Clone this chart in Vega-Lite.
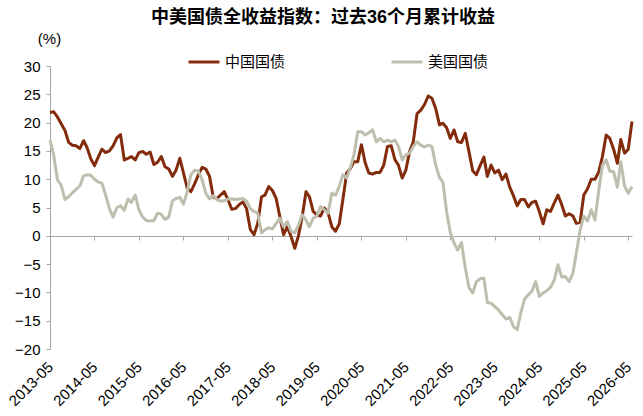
{
  "$schema": "https://vega.github.io/schema/vega-lite/v6.json",
  "width": 582,
  "height": 283,
  "autosize": {"type": "none"},
  "padding": {"left": 50, "top": 66, "right": 11, "bottom": 67},
  "config": {
    "font": "Liberation Sans, Noto Sans CJK SC",
    "view": {"stroke": null}
  },
  "title": {
    "text": "中美国债全收益指数：过去36个月累计收益",
    "font": "Liberation Sans, Noto Sans CJK SC",
    "fontSize": 18,
    "fontWeight": "bold",
    "color": "#000000",
    "anchor": "middle",
    "dx": -18,
    "offset": 4
  },
  "data": {
    "values": [
      {"d": "2013-05", "cn": 21.8, "us": 16.9},
      {"d": "2013-06", "cn": 21.9, "us": 14.2},
      {"d": "2013-07", "cn": 21.0, "us": 9.9},
      {"d": "2013-08", "cn": 19.8, "us": 8.9},
      {"d": "2013-09", "cn": 18.6, "us": 6.4},
      {"d": "2013-10", "cn": 16.5, "us": 6.9},
      {"d": "2013-11", "cn": 16.0, "us": 7.6},
      {"d": "2013-12", "cn": 15.9, "us": 8.2},
      {"d": "2014-01", "cn": 15.4, "us": 8.8},
      {"d": "2014-02", "cn": 16.8, "us": 10.6},
      {"d": "2014-03", "cn": 15.6, "us": 10.8},
      {"d": "2014-04", "cn": 13.6, "us": 10.7},
      {"d": "2014-05", "cn": 12.4, "us": 10.0},
      {"d": "2014-06", "cn": 13.9, "us": 9.5},
      {"d": "2014-07", "cn": 15.3, "us": 9.3},
      {"d": "2014-08", "cn": 14.7, "us": 7.2},
      {"d": "2014-09", "cn": 15.0, "us": 4.8},
      {"d": "2014-10", "cn": 15.9, "us": 3.3},
      {"d": "2014-11", "cn": 17.3, "us": 5.0},
      {"d": "2014-12", "cn": 17.9, "us": 5.3},
      {"d": "2015-01", "cn": 13.4, "us": 4.5},
      {"d": "2015-02", "cn": 13.7, "us": 6.5},
      {"d": "2015-03", "cn": 14.0, "us": 5.9},
      {"d": "2015-04", "cn": 13.4, "us": 7.2},
      {"d": "2015-05", "cn": 14.7, "us": 4.6},
      {"d": "2015-06", "cn": 14.9, "us": 3.3},
      {"d": "2015-07", "cn": 14.4, "us": 2.7},
      {"d": "2015-08", "cn": 14.8, "us": 2.6},
      {"d": "2015-09", "cn": 12.6, "us": 2.7},
      {"d": "2015-10", "cn": 13.0, "us": 4.0},
      {"d": "2015-11", "cn": 14.0, "us": 3.8},
      {"d": "2015-12", "cn": 12.2, "us": 2.9},
      {"d": "2016-01", "cn": 11.8, "us": 3.3},
      {"d": "2016-02", "cn": 10.5, "us": 6.2},
      {"d": "2016-03", "cn": 11.6, "us": 6.6},
      {"d": "2016-04", "cn": 13.7, "us": 6.8},
      {"d": "2016-05", "cn": 11.1, "us": 5.6},
      {"d": "2016-06", "cn": 8.4, "us": 7.8},
      {"d": "2016-07", "cn": 7.8, "us": 10.8},
      {"d": "2016-08", "cn": 9.2, "us": 11.6},
      {"d": "2016-09", "cn": 10.8, "us": 11.4},
      {"d": "2016-10", "cn": 12.1, "us": 9.9},
      {"d": "2016-11", "cn": 11.8, "us": 7.5},
      {"d": "2016-12", "cn": 10.5, "us": 6.5},
      {"d": "2017-01", "cn": 6.8, "us": 7.1},
      {"d": "2017-02", "cn": 6.6, "us": 6.4},
      {"d": "2017-03", "cn": 7.2, "us": 6.1},
      {"d": "2017-04", "cn": 7.8, "us": 6.2},
      {"d": "2017-05", "cn": 6.4, "us": 6.5},
      {"d": "2017-06", "cn": 4.7, "us": 6.5},
      {"d": "2017-07", "cn": 4.8, "us": 6.4},
      {"d": "2017-08", "cn": 5.5, "us": 6.5},
      {"d": "2017-09", "cn": 6.0, "us": 6.6},
      {"d": "2017-10", "cn": 4.8, "us": 6.1},
      {"d": "2017-11", "cn": 1.1, "us": 4.8},
      {"d": "2017-12", "cn": 0.2, "us": 4.3},
      {"d": "2018-01", "cn": 2.2, "us": 4.0},
      {"d": "2018-02", "cn": 6.9, "us": 0.5},
      {"d": "2018-03", "cn": 7.2, "us": 1.1},
      {"d": "2018-04", "cn": 8.7, "us": 1.4},
      {"d": "2018-05", "cn": 8.0, "us": 1.2},
      {"d": "2018-06", "cn": 6.6, "us": 2.2},
      {"d": "2018-07", "cn": 3.4, "us": 3.1},
      {"d": "2018-08", "cn": 0.2, "us": 1.6},
      {"d": "2018-09", "cn": 1.6, "us": 2.5},
      {"d": "2018-10", "cn": -0.1, "us": 0.8},
      {"d": "2018-11", "cn": -2.2, "us": 0.5},
      {"d": "2018-12", "cn": 0.0, "us": 1.9},
      {"d": "2019-01", "cn": 3.4, "us": 3.7},
      {"d": "2019-02", "cn": 7.8, "us": 2.8},
      {"d": "2019-03", "cn": 6.9, "us": 1.6},
      {"d": "2019-04", "cn": 4.3, "us": 3.1},
      {"d": "2019-05", "cn": 3.7, "us": 3.5},
      {"d": "2019-06", "cn": 3.5, "us": 5.2},
      {"d": "2019-07", "cn": 4.9, "us": 4.6},
      {"d": "2019-08", "cn": 4.1, "us": 4.0},
      {"d": "2019-09", "cn": 1.6, "us": 7.5},
      {"d": "2019-10", "cn": 0.8, "us": 7.2},
      {"d": "2019-11", "cn": 2.1, "us": 8.7},
      {"d": "2019-12", "cn": 6.4, "us": 10.8},
      {"d": "2020-01", "cn": 11.1, "us": 10.2},
      {"d": "2020-02", "cn": 11.9, "us": 12.1},
      {"d": "2020-03", "cn": 13.1, "us": 14.3},
      {"d": "2020-04", "cn": 13.1, "us": 18.4},
      {"d": "2020-05", "cn": 16.1, "us": 18.4},
      {"d": "2020-06", "cn": 12.9, "us": 17.8},
      {"d": "2020-07", "cn": 11.1, "us": 18.2},
      {"d": "2020-08", "cn": 10.9, "us": 18.7},
      {"d": "2020-09", "cn": 11.2, "us": 16.6},
      {"d": "2020-10", "cn": 11.2, "us": 17.2},
      {"d": "2020-11", "cn": 12.5, "us": 16.6},
      {"d": "2020-12", "cn": 15.8, "us": 16.9},
      {"d": "2021-01", "cn": 15.9, "us": 16.6},
      {"d": "2021-02", "cn": 13.4, "us": 16.9},
      {"d": "2021-03", "cn": 12.5, "us": 15.8},
      {"d": "2021-04", "cn": 10.2, "us": 13.4},
      {"d": "2021-05", "cn": 11.6, "us": 14.3},
      {"d": "2021-06", "cn": 14.9, "us": 14.6},
      {"d": "2021-07", "cn": 16.6, "us": 15.8},
      {"d": "2021-08", "cn": 21.6, "us": 16.6},
      {"d": "2021-09", "cn": 22.2, "us": 16.0},
      {"d": "2021-10", "cn": 23.2, "us": 15.7},
      {"d": "2021-11", "cn": 24.7, "us": 16.0},
      {"d": "2021-12", "cn": 24.3, "us": 15.8},
      {"d": "2022-01", "cn": 22.5, "us": 12.5},
      {"d": "2022-02", "cn": 19.6, "us": 10.3},
      {"d": "2022-03", "cn": 19.9, "us": 9.5},
      {"d": "2022-04", "cn": 19.1, "us": 4.2},
      {"d": "2022-05", "cn": 17.2, "us": 0.6},
      {"d": "2022-06", "cn": 18.7, "us": -1.3},
      {"d": "2022-07", "cn": 16.6, "us": -2.5},
      {"d": "2022-08", "cn": 16.5, "us": -1.2},
      {"d": "2022-09", "cn": 18.1, "us": -5.7},
      {"d": "2022-10", "cn": 14.9, "us": -9.1},
      {"d": "2022-11", "cn": 11.5, "us": -10.1},
      {"d": "2022-12", "cn": 10.8, "us": -8.1},
      {"d": "2023-01", "cn": 12.4, "us": -7.6},
      {"d": "2023-02", "cn": 13.9, "us": -7.5},
      {"d": "2023-03", "cn": 10.5, "us": -11.8},
      {"d": "2023-04", "cn": 12.5, "us": -11.9},
      {"d": "2023-05", "cn": 11.1, "us": -12.5},
      {"d": "2023-06", "cn": 11.6, "us": -13.1},
      {"d": "2023-07", "cn": 9.9, "us": -13.9},
      {"d": "2023-08", "cn": 10.9, "us": -14.7},
      {"d": "2023-09", "cn": 8.6, "us": -14.4},
      {"d": "2023-10", "cn": 7.1, "us": -16.0},
      {"d": "2023-11", "cn": 5.3, "us": -16.6},
      {"d": "2023-12", "cn": 6.4, "us": -13.6},
      {"d": "2024-01", "cn": 6.4, "us": -11.2},
      {"d": "2024-02", "cn": 5.1, "us": -10.4},
      {"d": "2024-03", "cn": 5.9, "us": -9.8},
      {"d": "2024-04", "cn": 6.1, "us": -8.1},
      {"d": "2024-05", "cn": 4.3, "us": -10.7},
      {"d": "2024-06", "cn": 2.1, "us": -10.1},
      {"d": "2024-07", "cn": 4.6, "us": -9.7},
      {"d": "2024-08", "cn": 4.3, "us": -9.1},
      {"d": "2024-09", "cn": 5.8, "us": -7.8},
      {"d": "2024-10", "cn": 7.2, "us": -5.1},
      {"d": "2024-11", "cn": 5.5, "us": -7.3},
      {"d": "2024-12", "cn": 3.5, "us": -7.2},
      {"d": "2025-01", "cn": 3.9, "us": -8.1},
      {"d": "2025-02", "cn": 3.5, "us": -6.6},
      {"d": "2025-03", "cn": 2.2, "us": -3.0},
      {"d": "2025-04", "cn": 2.4, "us": 1.0},
      {"d": "2025-05", "cn": 7.2, "us": 3.5},
      {"d": "2025-06", "cn": 8.3, "us": 2.6},
      {"d": "2025-07", "cn": 10.0, "us": 4.6},
      {"d": "2025-08", "cn": 10.0, "us": 2.8},
      {"d": "2025-09", "cn": 11.3, "us": 8.0},
      {"d": "2025-10", "cn": 14.0, "us": 12.5},
      {"d": "2025-11", "cn": 17.8, "us": 13.4},
      {"d": "2025-12", "cn": 17.2, "us": 11.4},
      {"d": "2026-01", "cn": 15.3, "us": 11.3},
      {"d": "2026-02", "cn": 12.8, "us": 8.6},
      {"d": "2026-03", "cn": 17.0, "us": 13.1},
      {"d": "2026-04", "cn": 14.6, "us": 8.8},
      {"d": "2026-05", "cn": 15.3, "us": 7.5},
      {"d": "2026-06", "cn": 20.2, "us": 8.7}
    ]
  },
  "transform": [
    {"fold": ["cn", "us"], "as": ["series", "value"]}
  ],
  "mark": {"type": "line", "strokeWidth": 3, "strokeJoin": "round"},
  "encoding": {
    "x": {
      "field": "d",
      "type": "temporal",
      "scale": {
        "type": "utc",
        "domain": [
          {"year": 2013, "month": 5, "date": 1, "utc": true},
          {"year": 2026, "month": 6, "date": 1, "utc": true}
        ]
      },
      "axis": {
        "title": null,
        "orient": "bottom",
        "offset": -113,
        "values": [
          {"year": 2013, "month": 5, "date": 1, "utc": true},
          {"year": 2014, "month": 5, "date": 1, "utc": true},
          {"year": 2015, "month": 5, "date": 1, "utc": true},
          {"year": 2016, "month": 5, "date": 1, "utc": true},
          {"year": 2017, "month": 5, "date": 1, "utc": true},
          {"year": 2018, "month": 5, "date": 1, "utc": true},
          {"year": 2019, "month": 5, "date": 1, "utc": true},
          {"year": 2020, "month": 5, "date": 1, "utc": true},
          {"year": 2021, "month": 5, "date": 1, "utc": true},
          {"year": 2022, "month": 5, "date": 1, "utc": true},
          {"year": 2023, "month": 5, "date": 1, "utc": true},
          {"year": 2024, "month": 5, "date": 1, "utc": true},
          {"year": 2025, "month": 5, "date": 1, "utc": true},
          {"year": 2026, "month": 5, "date": 1, "utc": true}
        ],
        "labelExpr": "utcFormat(datum.value, '%Y-%m')",
        "grid": false,
        "domainColor": "#a6a6a6",
        "tickColor": "#a6a6a6",
        "tickSize": 4,
        "labelAngle": -45,
        "labelAlign": "right",
        "labelBaseline": "middle",
        "labelPadding": 124,
        "labelFontSize": 15,
        "labelColor": "#000000",
        "labelOverlap": false,
        "labelFlush": false,
        "labelBound": false
      }
    },
    "y": {
      "field": "value",
      "type": "quantitative",
      "scale": {"domain": [-20, 30], "nice": false, "zero": false},
      "axis": {
        "title": "(%)",
        "titleAngle": 0,
        "titleX": -1,
        "titleY": -28,
        "titleAlign": "center",
        "titleBaseline": "middle",
        "titleFontWeight": "normal",
        "titleFontSize": 15,
        "titleColor": "#000000",
        "values": [-20, -15, -10, -5, 0, 5, 10, 15, 20, 25, 30],
        "grid": false,
        "domainColor": "#a6a6a6",
        "tickColor": "#a6a6a6",
        "tickSize": 4,
        "labelPadding": 6,
        "labelFontSize": 15,
        "labelColor": "#000000"
      }
    },
    "color": {
      "field": "series",
      "type": "nominal",
      "scale": {"domain": ["cn", "us"], "range": ["#822c0c", "#bebeaf"]},
      "legend": {
        "title": null,
        "orient": "none",
        "legendX": 137,
        "legendY": -21,
        "direction": "horizontal",
        "symbolType": "stroke",
        "symbolStrokeWidth": 3,
        "symbolSize": 961,
        "labelFontSize": 15,
        "labelColor": "#000000",
        "labelOffset": 4,
        "columnPadding": 99,
        "labelExpr": "datum.label == 'cn' ? '中国国债' : '美国国债'"
      }
    }
  }
}
